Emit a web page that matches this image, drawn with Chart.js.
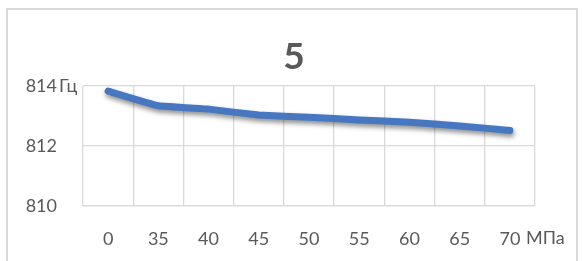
<!DOCTYPE html>
<html>
<head>
<meta charset="utf-8">
<script src="https://cdn.jsdelivr.net/npm/chart.js@4"></script>
<style>
body{margin:0;background:#fff;width:582px;height:261px;overflow:hidden;position:relative}
#frame{position:absolute;left:6px;top:8px;width:572px;height:270px;border:2px solid #d9d9d9;box-sizing:border-box}
#c{position:absolute;left:0;top:0}
</style>
</head>
<body>
<div id="frame"></div>
<canvas id="c" width="582" height="261"></canvas>
<script>

// pressure, MPa
const labels = ["0","35","40","45","50","55","60","65","70"]
// frequency, Hz
const freq = [813.83,813.34,813.23,813.03,812.96,812.87,812.79,812.67,812.52]
const yTicks = [810,812,814]

const titleText = "5"
const yUnit = "Гц"
const xUnit = "МПа"

const grey = "#595959"
const gridCol = "#d9d9d9"

const shadow = {
id:"shadow",
beforeDatasetsDraw(chart){
const ctx = chart.ctx
ctx.save()
ctx.shadowColor = "rgba(0,0,0,0.45)"
ctx.shadowBlur = 5
ctx.shadowOffsetX = 1
ctx.shadowOffsetY = 3
},
afterDatasetsDraw(chart){
chart.ctx.restore()
}
}

// title and unit captions
const texts = {
id:"texts",
afterDraw(chart){
const ctx = chart.ctx
const y = chart.scales.y
ctx.save()
ctx.fillStyle = grey
ctx.textBaseline = "middle"
ctx.textAlign = "center"
ctx.font = "bold 37px Lato"
ctx.fillText(titleText, 294, 57)
ctx.font = "18px Lato"
ctx.textAlign = "left"
ctx.fillText(yUnit, 59, y.getPixelForValue(814))
ctx.fillText(xUnit, 526, 238)
ctx.restore()
}
}

new Chart(document.getElementById("c"),{
type:"line",
data:{
labels:labels,
datasets:[{
data:freq,
borderColor:"#4677c0",
borderWidth:7,
borderCapStyle:"round",
borderJoinStyle:"round",
pointRadius:0,
tension:0.08,
fill:false
}]
},
options:{
responsive:false,
animation:false,
layout:{padding:{left:0,right:47,top:86,bottom:0}},
plugins:{
legend:{display:false},
tooltip:{enabled:false},
title:{display:false}
},
scales:{
x:{
offset:true,
grid:{offset:true,color:gridCol,lineWidth:1.3,drawTicks:false},
border:{color:gridCol,width:1.3},
ticks:{color:grey,font:{family:"Lato",size:18},padding:22,maxRotation:0},
afterFit(s){s.height=55}
},
y:{
min:810,
max:814,
afterBuildTicks(s){s.ticks = yTicks.map(v=>({value:v}))},
grid:{color:gridCol,lineWidth:1.3,drawTicks:false},
border:{display:false},
ticks:{color:grey,font:{family:"Lato",size:18},padding:26},
afterFit(s){s.width=83}
}
}
},
plugins:[shadow,texts]
})

</script>
</body>
</html>
